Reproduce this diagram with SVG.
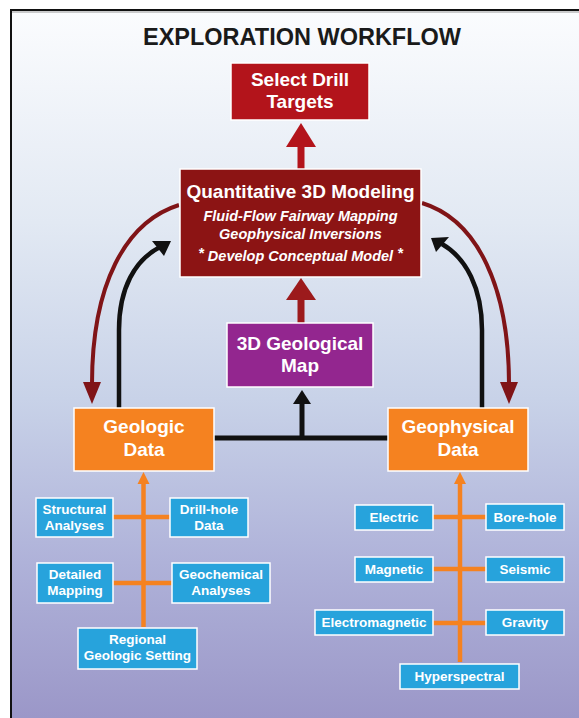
<svg xmlns="http://www.w3.org/2000/svg" width="579" height="718" viewBox="0 0 579 718">
<defs>
<linearGradient id="bg" x1="0" y1="0" x2="0" y2="1">
<stop offset="0" stop-color="#fbfcfe"/>
<stop offset="0.3" stop-color="#e2e9f3"/>
<stop offset="0.55" stop-color="#c8d2e8"/>
<stop offset="0.78" stop-color="#afb2d9"/>
<stop offset="1" stop-color="#9b97c8"/>
</linearGradient>
<style>
text{font-family:"Liberation Sans",Arial,sans-serif;font-weight:bold;text-anchor:middle;fill:#fff}
.big{font-size:19px}
.it{font-size:14.5px;font-style:italic}
.sm{font-size:13.5px}
.box{stroke:#fff;stroke-width:1.5}
.red{fill:#b3141b}
.dred{fill:#8c1414}
.pur{fill:#93268f}
.org{fill:#f58220}
.blu{fill:#27a3dc}
.oline{stroke:#f58220;stroke-width:4.5;fill:none}
</style>
</defs>
<rect x="0" y="0" width="579" height="718" fill="#fff"/>
<rect x="11" y="10" width="568" height="708" fill="url(#bg)"/>
<line x1="10" y1="10" x2="579" y2="10" stroke="#111" stroke-width="2"/>
<line x1="11" y1="9" x2="11" y2="718" stroke="#111" stroke-width="2"/>
<line x1="12" y1="12" x2="579" y2="12" stroke="#999" stroke-width="1"/>

<text x="302" y="45" style="font-size:23.5px;fill:#1a1a1a">EXPLORATION WORKFLOW</text>

<g id="connectors">
<!-- select <- quant -->
<rect x="297.5" y="146" width="7" height="24" fill="#b3141b"/>
<polygon points="286,147 316,147 301,123" fill="#b3141b"/>
<!-- quant <- map -->
<rect x="297.5" y="298" width="7" height="26" fill="#9c1a1c"/>
<polygon points="286,300 316,300 301,278" fill="#9c1a1c"/>
<!-- data -> map -->
<path d="M214 438 H388 M302 438 V402" stroke="#111" stroke-width="5" fill="none"/>
<polygon points="293,404 311,404 302,390" fill="#111"/>
<!-- left arcs -->
<path d="M179 205 C125 222 92 285 92 384" stroke="#801417" stroke-width="4" fill="none"/>
<polygon points="83,382 101,382 92,404" fill="#801417"/>
<path d="M119 408 V330 C119 288 135 260 160 247" stroke="#111" stroke-width="4.5" fill="none"/>
<polygon points="171,241 152,241 164,256" fill="#111"/>
<!-- right arcs -->
<path d="M422 203 C478 220 509 288 509 384" stroke="#801417" stroke-width="4" fill="none"/>
<polygon points="500,382 518,382 509,404" fill="#801417"/>
<path d="M482 408 V330 C482 288 466 258 442 244" stroke="#111" stroke-width="4.5" fill="none"/>
<polygon points="431,238 449,237 436,252" fill="#111"/>
<!-- geologic tree -->
<path class="oline" d="M143.5 627 V482 M113 517 H170 M113 583 H172"/>
<polygon points="137.5,484 149.5,484 143.5,472" fill="#f58220"/>
<!-- geophysical tree -->
<path class="oline" d="M460 662 V482 M433 517 H486 M433 569 H486 M433 623 H486"/>
<polygon points="454,484 466,484 460,472" fill="#f58220"/>
</g>

<g id="select-drill">
<rect class="box red" x="231" y="63" width="138" height="57"/>
<text class="big" x="300" y="86">Select Drill</text>
<text class="big" x="300" y="108">Targets</text>
</g>
<g id="quant-modeling">
<rect class="box dred" x="180" y="169" width="241" height="108"/>
<text class="big" x="300.5" y="198">Quantitative 3D Modeling</text>
<text class="it" x="300.5" y="221">Fluid-Flow Fairway Mapping</text>
<text class="it" x="300.5" y="239">Geophysical Inversions</text>
<text class="it" x="300.5" y="261"><tspan dy="-3">*</tspan><tspan dy="3"> Develop Conceptual Model </tspan><tspan dy="-3">*</tspan></text>
</g>
<g id="geo-map">
<rect class="box pur" x="227" y="323" width="146" height="64"/>
<text class="big" x="300" y="350">3D Geological</text>
<text class="big" x="300" y="372">Map</text>
</g>
<g id="geologic-data">
<rect class="box org" x="74" y="408" width="140" height="63"/>
<text class="big" x="144" y="433">Geologic</text>
<text class="big" x="144" y="456">Data</text>
</g>
<g id="geophysical-data">
<rect class="box org" x="388" y="408" width="140" height="63"/>
<text class="big" x="458" y="433">Geophysical</text>
<text class="big" x="458" y="456">Data</text>
</g>

<g id="structural">
<rect class="box blu" x="36" y="498" width="77" height="39"/>
<text class="sm" x="74.5" y="514">Structural</text>
<text class="sm" x="74.5" y="530">Analyses</text>
</g>
<g id="drillhole">
<rect class="box blu" x="170" y="498" width="78" height="39"/>
<text class="sm" x="209" y="514">Drill-hole</text>
<text class="sm" x="209" y="530">Data</text>
</g>
<g id="detailed">
<rect class="box blu" x="37" y="563" width="76" height="40"/>
<text class="sm" x="75" y="579">Detailed</text>
<text class="sm" x="75" y="595">Mapping</text>
</g>
<g id="geochemical">
<rect class="box blu" x="172" y="563" width="98" height="40"/>
<text class="sm" x="221" y="579">Geochemical</text>
<text class="sm" x="221" y="595">Analyses</text>
</g>
<g id="regional">
<rect class="box blu" x="78" y="628" width="119" height="41"/>
<text class="sm" x="137.5" y="644">Regional</text>
<text class="sm" x="137.5" y="660">Geologic Setting</text>
</g>

<g id="electric">
<rect class="box blu" x="355" y="505" width="78" height="25"/>
<text class="sm" x="394" y="522">Electric</text>
</g>
<g id="borehole">
<rect class="box blu" x="486" y="504" width="78" height="26"/>
<text class="sm" x="525" y="522">Bore-hole</text>
</g>
<g id="magnetic">
<rect class="box blu" x="355" y="557" width="78" height="25"/>
<text class="sm" x="394" y="574">Magnetic</text>
</g>
<g id="seismic">
<rect class="box blu" x="486" y="557" width="78" height="25"/>
<text class="sm" x="525" y="574">Seismic</text>
</g>
<g id="electromagnetic">
<rect class="box blu" x="315" y="610" width="118" height="25"/>
<text class="sm" x="374" y="627">Electromagnetic</text>
</g>
<g id="gravity">
<rect class="box blu" x="486" y="610" width="78" height="25"/>
<text class="sm" x="525" y="627">Gravity</text>
</g>
<g id="hyperspectral">
<rect class="box blu" x="400" y="664" width="119" height="25"/>
<text class="sm" x="459.5" y="681">Hyperspectral</text>
</g>
</svg>
